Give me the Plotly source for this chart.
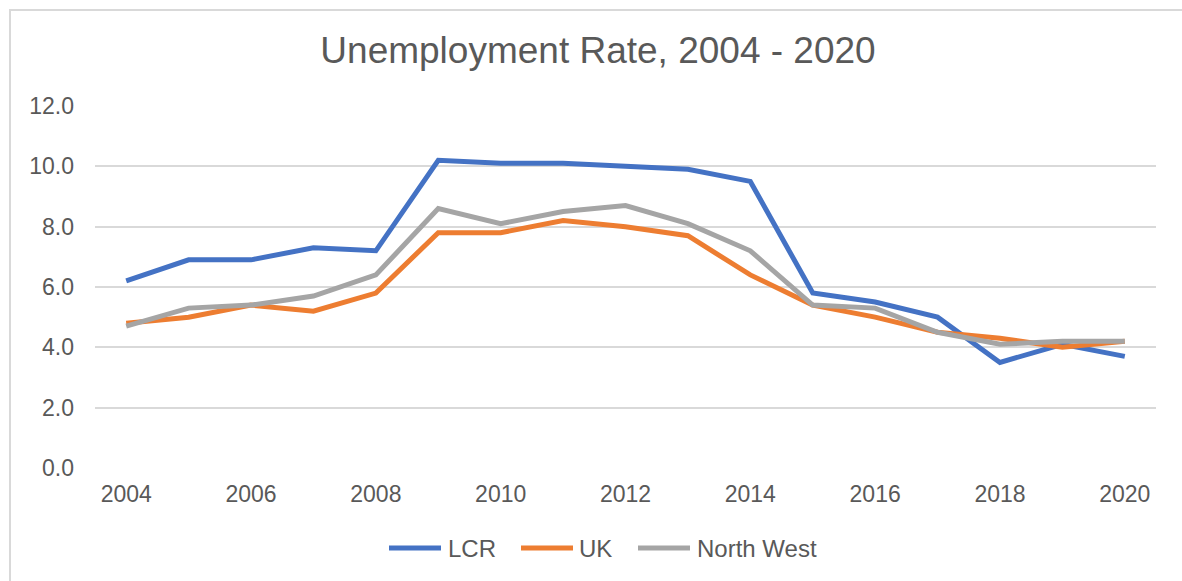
import plotly.graph_objects as go

# Unemployment rate (%) by year
years = list(range(2004, 2021))
lcr = [6.2, 6.9, 6.9, 7.3, 7.2, 10.2, 10.1, 10.1, 10.0, 9.9, 9.5, 5.8, 5.5, 5.0, 3.5, 4.1, 3.7]
uk = [4.8, 5.0, 5.4, 5.2, 5.8, 7.8, 7.8, 8.2, 8.0, 7.7, 6.4, 5.4, 5.0, 4.5, 4.3, 4.0, 4.2]
north_west = [4.7, 5.3, 5.4, 5.7, 6.4, 8.6, 8.1, 8.5, 8.7, 8.1, 7.2, 5.4, 5.3, 4.5, 4.1, 4.2, 4.2]

series_names = ["LCR", "UK", "North West"]
series_colors = ["#4472C4", "#ED7D31", "#A5A5A5"]
x_tick_years = list(range(2004, 2021, 2))
y_ticks = [0, 2, 4, 6, 8, 10, 12]

TEXT = "#595959"
GRID = "#D9D9D9"
FONT = "Liberation Sans, Arial, sans-serif"

W, H = 1182, 581
ML, MR, MT, MB = 95, 26, 106, 113
PW, PH = W - ML - MR, H - MT - MB


def px_x(x):
    return (x - ML) / PW


def px_y(y):
    return (H - MB - y) / PH


fig = go.Figure()
for name, values, color in zip(series_names, [lcr, uk, north_west], series_colors):
    fig.add_trace(go.Scatter(
        x=years, y=values, name=name, mode="lines",
        line=dict(color=color, width=5, shape="linear"),
        hoverinfo="x+y+name", showlegend=False,
    ))

# Legend row drawn underneath the plot: swatch start x, label start x (pixels)
legend_items = [(387, 446), (519, 577), (636, 695)]
legend_y = 548
shapes = [
    dict(type="rect", xref="paper", yref="paper",
         x0=px_x(10), x1=1.2, y0=-0.6, y1=px_y(10),
         line=dict(color=GRID, width=2), fillcolor="rgba(0,0,0,0)",
         layer="below"),
]
annotations = []
for (sx, tx), name, color in zip(legend_items, series_names, series_colors):
    shapes.append(dict(
        type="line", xref="paper", yref="paper",
        x0=px_x(sx + 2), x1=px_x(sx + 54), y0=px_y(legend_y), y1=px_y(legend_y),
        line=dict(color=color, width=5),
    ))
    annotations.append(dict(
        text=name, xref="paper", yref="paper",
        x=px_x(tx), y=px_y(legend_y), xanchor="left", yanchor="middle",
        showarrow=False, font=dict(family=FONT, size=24, color=TEXT),
    ))

fig.update_layout(
    width=W, height=H,
    margin=dict(l=ML, r=MR, t=MT, b=MB),
    paper_bgcolor="white", plot_bgcolor="white",
    font=dict(family=FONT, color=TEXT, size=23),
    title=dict(
        text="Unemployment Rate, 2004 - 2020",
        font=dict(family=FONT, size=37, color=TEXT),
        x=598 / W, xref="container", xanchor="center",
        y=1 - 50 / H, yref="container", yanchor="middle",
    ),
    showlegend=False,
    shapes=shapes,
    annotations=annotations,
)

fig.update_xaxes(
    range=[2003.5, 2020.5],
    tickmode="array", tickvals=x_tick_years,
    ticktext=[str(y) for y in x_tick_years],
    showgrid=False, zeroline=False, showline=False,
    ticks="", ticklabelstandoff=10,
    tickfont=dict(family=FONT, size=23, color=TEXT),
)
fig.update_yaxes(
    range=[0, 12],
    tickmode="array", tickvals=y_ticks,
    ticktext=[f"{v:.1f}" for v in y_ticks],
    showgrid=True, gridcolor=GRID, gridwidth=2,
    zeroline=False, showline=False,
    ticks="", ticklabelstandoff=20,
    tickfont=dict(family=FONT, size=23, color=TEXT),
)

fig.write_html("out.html")
